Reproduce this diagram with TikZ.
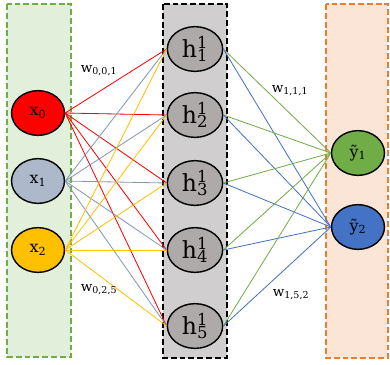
\documentclass[tikz,border=0pt]{standalone}
\usepackage{fontspec}
\setmainfont{DejaVu Serif}
\usepackage{tikz}
\usetikzlibrary{calc,shapes.geometric,positioning}
\definecolor{inred}{HTML}{FF0000}
\definecolor{ingray}{HTML}{ADB9CA}
\definecolor{ingrayline}{HTML}{8497B0}
\definecolor{ingold}{HTML}{FFC000}
\definecolor{hidgray}{HTML}{AEAAAA}
\definecolor{outgreen}{HTML}{70AD47}
\definecolor{outblue}{HTML}{4472C4}
\definecolor{boxgreen}{HTML}{E2EFDA}
\definecolor{boxgray}{HTML}{D0CECE}
\definecolor{boxorange}{HTML}{FBE5D6}
\definecolor{lineorange}{HTML}{ED7D31}

\begin{document}
\begin{tikzpicture}[x=0.85pt,y=-0.85pt,
  neuron/.style={ellipse, draw=black, line width=1.2pt, inner sep=0pt,
    minimum width=45pt, minimum height=38pt, font=\fontsize{13.5}{15}\selectfont},
  layerbox/.style={line width=1.6pt, dash pattern=on 5pt off 2.5pt},
  wlabel/.style={font=\fontsize{11.5}{13}\selectfont, inner sep=0pt},
  edge/.style={line width=0.7pt}]
\useasboundingbox (0,0) rectangle (390,364);
\draw[layerbox, draw=outgreen, fill=boxgreen] (7,4) rectangle (71,357);
\draw[layerbox, draw=black, fill=boxgray] (163,4) rectangle (227,358);
\draw[layerbox, draw=lineorange, fill=boxorange] (326,4) rectangle (388,358);
\node[neuron, fill=inred] (x0) at (38,113) {x\textsubscript{0}};
\node[neuron, fill=ingray] (x1) at (38,181) {x\textsubscript{1}};
\node[neuron, fill=ingold] (x2) at (38,250) {x\textsubscript{2}};
\foreach \j/\y in {1/49,2/115,3/183,4/250,5/326}
  \node[neuron, fill=hidgray, minimum width=47pt, font=\fontsize{20}{22}\selectfont] (h\j) at (195,\y) {h\rlap{\textsuperscript{1}}\textsubscript{\j}};
\node[neuron, fill=outgreen] (y1) at (358,153) {ỹ\textsubscript{1}};
\node[neuron, fill=outblue] (y2) at (358,227) {ỹ\textsubscript{2}};
\foreach \i/\c in {0/inred,1/ingrayline,2/ingold}
  \foreach \j in {1,...,5}
    \draw[edge, \c] (x\i.east) -- (h\j.west);
\foreach \j in {1,...,5} {
  \draw[edge, outgreen] (h\j.east) -- (y1.west);
  \draw[edge, outblue] (h\j.east) -- (y2.west);
}
\node[wlabel] (w001) at (99,71) {w\textsubscript{0,0,1}};
\node[wlabel] (w025) at (99,290) {w\textsubscript{0,2,5}};
\node[wlabel] (w111) at (290,91) {w\textsubscript{1,1,1}};
\node[wlabel] (w152) at (291,295) {w\textsubscript{1,5,2}};
\end{tikzpicture}
\end{document}
